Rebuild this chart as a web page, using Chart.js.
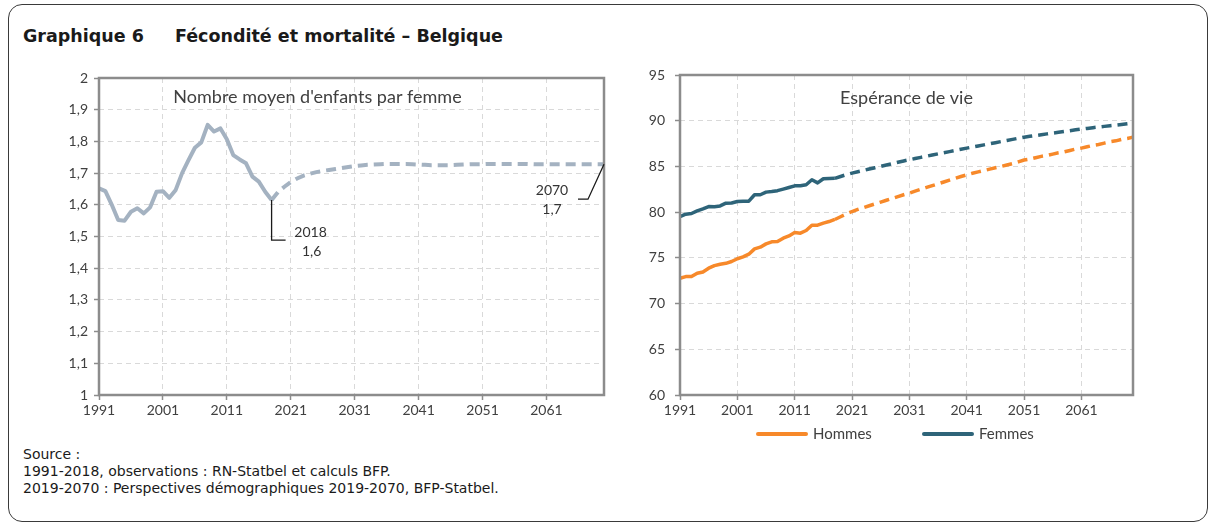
<!DOCTYPE html>
<html lang="fr">
<head>
<meta charset="utf-8">
<script src="https://cdn.jsdelivr.net/npm/chart.js@4.4.0/dist/chart.umd.min.js"></script>
<style>
  body { margin: 0; width: 1215px; height: 524px; background: #fff; position: relative; overflow: hidden; font-family: "DejaVu Sans", sans-serif; color: #1a1a1a; }
  #cadre { position: absolute; left: 8px; top: 4px; width: 1198px; height: 516px; border: 1px solid #3a3a3a; border-radius: 14px; }
  .titre { position: absolute; top: 26px; font-weight: bold; font-size: 17.5px; line-height: 21px; white-space: nowrap; }
  #source { position: absolute; left: 23px; top: 446px; font-size: 14px; line-height: 17px; white-space: nowrap; }
  canvas { position: absolute; }
  .leg { position: absolute; top: 424px; font-family: Lato, sans-serif; font-size: 15px; color: #404040; white-space: nowrap; }
  .leg i { display: inline-block; width: 52px; height: 4px; border-radius: 2px; vertical-align: middle; margin-right: 5px; position: relative; top: -1px; }
</style>
</head>
<body>
<div id="cadre"></div>
<div class="titre" style="left:23px">Graphique 6</div>
<div class="titre" style="left:175px">Fécondité et mortalité – Belgique</div>

<canvas id="chartFecondite" width="580" height="372" style="left:40px;top:55px"></canvas>
<canvas id="chartEsperance" width="580" height="372" style="left:620px;top:55px"></canvas>

<div class="leg" style="left:756px"><i style="background:#f7892a"></i>Hommes</div>
<div class="leg" style="left:922px"><i style="background:#2e6479"></i>Femmes</div>

<div id="source">Source :<br>1991-2018, observations : RN-Statbel et calculs BFP.<br>2019-2070 : Perspectives démographiques 2019-2070, BFP-Statbel.</div>

<script>
// annees 1991 -> 2070
const annees = Array.from({length: 80}, (_, i) => String(1991 + i));
const anneesAffichees = ['1991', '2001', '2011', '2021', '2031', '2041', '2051', '2061'];

// fecondite : observations 1991-2018
const fecObs = [
  1.652, 1.643, 1.600, 1.552, 1.550, 1.578, 1.589, 1.573, 1.592, 1.641,
  1.643, 1.622, 1.647, 1.700, 1.741, 1.780, 1.797, 1.852, 1.831, 1.841,
  1.807, 1.757, 1.743, 1.731, 1.689, 1.673, 1.641, 1.615
];
// fecondite : perspectives 2018-2070
const fecProj = [
  1.615, 1.640, 1.657, 1.672, 1.683, 1.692, 1.698, 1.703, 1.707, 1.710,
  1.713, 1.716, 1.719, 1.722, 1.724, 1.726, 1.727, 1.728, 1.729, 1.729,
  1.729, 1.729, 1.728, 1.727, 1.726, 1.725, 1.725, 1.725, 1.725, 1.726,
  1.727, 1.728, 1.728, 1.728, 1.729, 1.729, 1.729, 1.729, 1.729, 1.729,
  1.729, 1.728, 1.728, 1.728, 1.728, 1.728, 1.728, 1.728, 1.728, 1.728,
  1.728, 1.728, 1.728
];

// esperance de vie : observations 1991-2018
const hommesObs = [
  72.77, 72.95, 72.95, 73.32, 73.46, 73.87, 74.15, 74.3, 74.4, 74.6,
  74.9, 75.1, 75.4, 75.98, 76.17, 76.53, 76.75, 76.78, 77.15, 77.4,
  77.77, 77.7, 77.99, 78.57, 78.57, 78.8, 78.97, 79.2
];
const femmesObs = [
  79.52, 79.78, 79.85, 80.14, 80.36, 80.61, 80.6, 80.68, 80.98, 81.0,
  81.16, 81.2, 81.2, 81.9, 81.9, 82.19, 82.26, 82.35, 82.52, 82.7,
  82.88, 82.88, 83.0, 83.54, 83.2, 83.65, 83.68, 83.7
];
// esperance de vie : perspectives 2018-2070
const hommesProj = [
  79.2, 79.5, 79.8, 80.07, 80.3, 80.5, 80.7, 80.9, 81.1, 81.3,
  81.5, 81.7, 81.9, 82.08, 82.3, 82.5, 82.7, 82.9, 83.1, 83.3,
  83.5, 83.7, 83.9, 84.08, 84.25, 84.4, 84.55, 84.7, 84.85, 85.0,
  85.15, 85.3, 85.5, 85.7, 85.8, 85.95, 86.1, 86.2, 86.35, 86.5,
  86.6, 86.75, 86.9, 87.0, 87.15, 87.3, 87.4, 87.55, 87.7, 87.8,
  87.95, 88.05, 88.2
];
const femmesProj = [
  83.7, 83.9, 84.1, 84.27, 84.42, 84.57, 84.72, 84.86, 85.0, 85.15,
  85.3, 85.45, 85.6, 85.73, 85.86, 85.99, 86.12, 86.25, 86.38, 86.5,
  86.62, 86.75, 86.88, 87.0, 87.12, 87.24, 87.36, 87.48, 87.6, 87.72,
  87.84, 87.96, 88.08, 88.2, 88.29, 88.38, 88.47, 88.56, 88.65, 88.73,
  88.82, 88.91, 89.0, 89.08, 89.16, 89.24, 89.31, 89.38, 89.45, 89.52,
  89.59, 89.66, 89.74
];

const debutProj = 2018;
const observe = (serie) => annees.map((a, i) => i < serie.length ? serie[i] : null);
const projete = (serie) => annees.map((a) => +a >= debutProj ? serie[+a - debutProj] : null);

Chart.defaults.font.family = 'Lato, sans-serif';
Chart.defaults.font.size = 14;
Chart.defaults.color = '#404040';
Chart.defaults.animation = false;

const grille = '#d9d9d9';
const axe = '#8c8c8c';

// cadre gris autour de la zone de tracé + titre interne
const cadrePlugin = {
  id: 'cadre',
  afterDraw(chart, args, opts) {
    const {ctx, chartArea: a} = chart;
    ctx.save();
    ctx.strokeStyle = axe;
    ctx.lineWidth = 2.5;
    ctx.strokeRect(a.left, a.top, a.right - a.left, a.bottom - a.top);
    ctx.fillStyle = '#404040';
    ctx.font = '18px Lato, sans-serif';
    ctx.textAlign = 'center';
    ctx.textBaseline = 'middle';
    ctx.fillText(opts.texte, (a.left + a.right) / 2 + opts.dx, a.top + opts.dy);
    ctx.restore();
  }
};

// etiquettes 2018 et 2070 de la fécondité
const etiquettesPlugin = {
  id: 'etiquettes',
  afterDraw(chart) {
    const {ctx, scales: {x, y}} = chart;
    ctx.save();
    ctx.strokeStyle = '#1a1a1a';
    ctx.lineWidth = 1.3;
    ctx.fillStyle = '#333';
    ctx.font = '14px Lato, sans-serif';
    ctx.textAlign = 'center';
    ctx.textBaseline = 'middle';

    const i1 = annees.indexOf('2018');
    const p1 = {x: x.getPixelForValue(i1), y: y.getPixelForValue(fecObs[i1])};
    ctx.beginPath();
    ctx.moveTo(p1.x, p1.y);
    ctx.lineTo(p1.x, p1.y + 40);
    ctx.lineTo(p1.x + 14, p1.y + 40);
    ctx.stroke();
    ctx.fillText('2018', p1.x + 39, p1.y + 32);
    ctx.fillText('1,6', p1.x + 40, p1.y + 51);

    const i2 = annees.indexOf('2070');
    const p2 = {x: x.getPixelForValue(i2), y: y.getPixelForValue(fecProj[i2 - i1])};
    ctx.beginPath();
    ctx.moveTo(p2.x, p2.y);
    ctx.lineTo(p2.x - 16, p2.y + 35);
    ctx.lineTo(p2.x - 26, p2.y + 35);
    ctx.stroke();
    ctx.fillText('2070', p2.x - 52, p2.y + 26);
    ctx.fillText('1,7', p2.x - 52, p2.y + 45);
    ctx.restore();
  }
};

function axeX(hauteur) {
  return {
    type: 'category',
    labels: annees,
    offset: false,
    border: {display: false, dash: [5, 4]},
    grid: {
      color: (c) => c.index % 10 === 0 ? grille : 'transparent',
      tickColor: (c) => c.index % 10 === 0 ? axe : 'transparent',
      tickLength: 5,
      tickWidth: 1.5,
      lineWidth: 1
    },
    ticks: {
      autoSkip: false,
      maxRotation: 0,
      padding: 2,
      callback: (v, i) => anneesAffichees.includes(annees[i]) ? annees[i] : ''
    },
    afterFit: (s) => { s.height = hauteur; }
  };
}

function axeY(min, max, pas, largeur, pad, format) {
  return {
    min: min, max: max,
    border: {display: false, dash: [5, 4]},
    grid: {color: grille, tickColor: axe, tickLength: 5, tickWidth: 1.5},
    ticks: {stepSize: pas, padding: pad, callback: format},
    afterFit: (s) => { s.width = largeur; }
  };
}

const virgule = (v) => {
  const s = v.toFixed(1);
  return s.endsWith('.0') ? s.slice(0, -2) : s.replace('.', ',');
};

new Chart(document.getElementById('chartFecondite'), {
  type: 'line',
  data: {
    labels: annees,
    datasets: [
      {
        label: 'Observations',
        data: observe(fecObs),
        borderColor: '#a4b2c1',
        borderWidth: 4,
        pointRadius: 0,
        borderJoinStyle: 'round'
      },
      {
        label: 'Perspectives',
        data: projete(fecProj),
        borderColor: '#a4b2c1',
        borderWidth: 4,
        borderDash: [10, 6],
        pointRadius: 0
      }
    ]
  },
  options: {
    responsive: false,
    layout: {padding: {left: 20, right: 16, top: 23, bottom: 2}},
    plugins: {
      legend: {display: false},
      tooltip: {enabled: false},
      cadre: {texte: "Nombre moyen d'enfants par femme", dx: -34, dy: 19}
    },
    scales: {
      x: axeX(30),
      y: axeY(1, 2, 0.1, 39, 6, virgule)
    }
  },
  plugins: [cadrePlugin, etiquettesPlugin]
});

new Chart(document.getElementById('chartEsperance'), {
  type: 'line',
  data: {
    labels: annees,
    datasets: [
      {
        label: 'Hommes',
        data: observe(hommesObs),
        borderColor: '#f7892a',
        borderWidth: 3.5,
        pointRadius: 0,
        borderJoinStyle: 'round'
      },
      {
        label: 'Hommes (perspectives)',
        data: projete(hommesProj),
        borderColor: '#f7892a',
        borderWidth: 3.5,
        borderDash: [10, 6],
        pointRadius: 0
      },
      {
        label: 'Femmes',
        data: observe(femmesObs),
        borderColor: '#2e6479',
        borderWidth: 3.5,
        pointRadius: 0,
        borderJoinStyle: 'round'
      },
      {
        label: 'Femmes (perspectives)',
        data: projete(femmesProj),
        borderColor: '#2e6479',
        borderWidth: 3.5,
        borderDash: [10, 6],
        pointRadius: 0
      }
    ]
  },
  options: {
    responsive: false,
    layout: {padding: {left: 20, right: 67, top: 20, bottom: 2}},
    plugins: {
      legend: {display: false},
      tooltip: {enabled: false},
      cadre: {texte: 'Espérance de vie', dx: 0, dy: 23}
    },
    scales: {
      x: axeX(30),
      y: axeY(60, 95, 5, 40, 10, (v) => String(v))
    }
  },
  plugins: [cadrePlugin]
});
</script>
</body>
</html>
